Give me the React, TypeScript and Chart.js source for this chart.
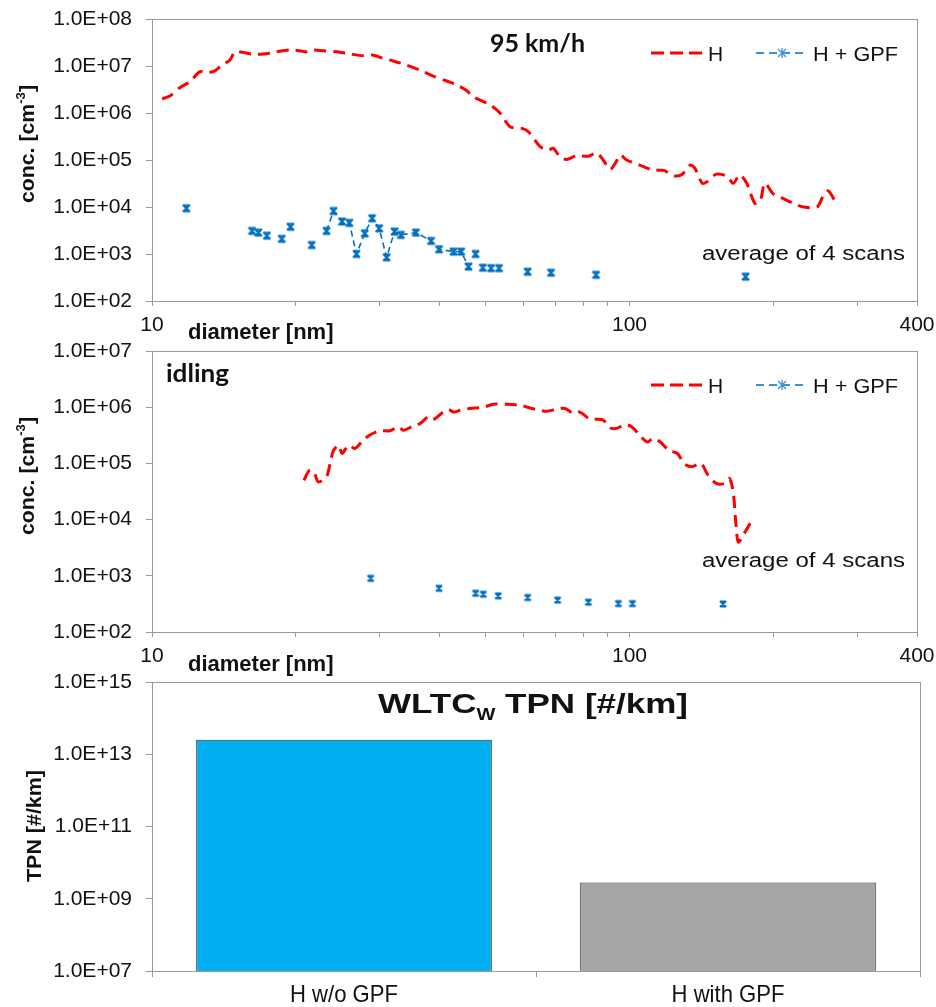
import React, { useEffect, useRef } from "react";
import { Chart, registerables } from "chart.js";

Chart.register(...registerables);

const SANS = '"Liberation Sans", Arial, Helvetica, sans-serif';
const HEAD = 'Lato, "Open Sans", sans-serif';
const AXIS_GREY = "#9a9a9a";
const TEXT = "#111111";
const RED = "#ff0000";
const BLUE = "#0070c0";
const BLUE_LIGHT = "#3a93dc";

// ---- 95 km/h: H without filter ----
const diam95H = [
  10.5, 10.9, 11.45, 12.0, 12.6, 13.0, 13.55, 14.0, 14.56, 14.93, 15.5, 16.3, 17.1, 18.2, 19.5,
  20.4, 21.1, 21.8, 22.9, 24.4, 26.0, 27.7, 29.1, 30.2, 32.0, 34.1, 36.4, 38.8, 41.4, 43.5,
  45.6, 47.1, 51.1, 53.6, 56.2, 59.5, 61.4, 65.0, 67.6, 69.3, 71.5, 73.8, 77.4, 82.0, 85.3,
  88.1, 91.0, 93.3, 95.6, 98.6, 105, 112, 118, 124, 129, 134, 137, 142, 145, 152, 160, 165,
  170, 176, 183, 188, 192, 200, 210, 220, 231, 247, 255, 261, 272,
];
const conc95H = [
  2.0e6, 2.3e6, 3.5e6, 4.6e6, 7.6e6, 7.2e6, 7.9e6, 1.05e7, 1.34e7, 2.0e7, 1.95e7, 1.78e7, 1.8e7, 2.0e7, 2.2e7,
  2.1e7, 2.0e7, 2.2e7, 2.1e7, 2.0e7, 1.8e7, 1.66e7, 1.7e7, 1.5e7, 1.28e7, 1.05e7, 8.2e6, 6.1e6, 4.8e6, 3.95e6,
  3.0e6, 2.2e6, 1.48e6, 9.9e5, 5.1e5, 4.7e5, 4.0e5, 1.92e5, 1.63e5, 1.77e5, 1.17e5, 1.03e5, 1.23e5, 1.2e5, 1.42e5,
  1.0e5, 6.3e4, 8.4e4, 1.28e5, 1.0e5, 7.8e4, 6.1e4, 6.0e4, 4.6e4, 5.0e4, 7.8e4, 6.7e4, 3.2e4, 3.4e4, 5.0e4, 4.5e4, 3.2e4,
  4.8e4, 3.2e4, 1.2e4, 1.4e4, 3.2e4, 1.9e4, 1.5e4, 1.2e4, 1.0e4, 1.0e4, 1.8e4, 2.2e4, 1.1e4,
];

// ---- 95 km/h: H + GPF (average of 4 scans) ----
const diam95Gpf = [
  11.8, 16.2, 16.7, 17.4, 18.7, 19.5, 21.6, 23.2, 24.0, 25.0, 25.9, 26.8, 27.9, 28.9, 29.9, 31.0,
  32.2, 33.2, 35.7, 38.4, 39.9, 42.8, 44.4, 46.0, 47.6, 49.3, 51.3, 53.3, 61.2, 68.5, 85.1, 175,
];
const conc95Gpf = [
  9.4e3, 3.1e3, 2.85e3, 2.45e3, 2.1e3, 3.8e3, 1.55e3, 3.1e3, 8.2e3, 4.9e3, 4.6e3, 1.0e3, 2.75e3, 5.75e3, 3.5e3, 8.5e2,
  3.0e3, 2.55e3, 2.85e3, 1.9e3, 1.26e3, 1.12e3, 1.12e3, 5.4e2, 1.0e3, 5.1e2, 5.0e2, 5.0e2, 4.2e2, 4.0e2, 3.6e2, 3.3e2,
];
// continuous run of the GPF series that is joined by a line
const gpf95RunFrom = 7;
const gpf95RunTo = 23;

// ---- idling: H without filter ----
const diamIdleH = [
  20.8, 21.4, 21.9, 22.3, 23.2, 23.6, 24.0, 24.6, 25.0, 25.8, 26.6, 27.7, 28.6, 30.0, 31.5, 32.8,
  33.6, 35.2, 36.4, 37.9, 38.8, 40.7, 41.8, 42.8, 44.2, 46.3, 49.4, 51.9, 55.3, 59.0, 61.9, 65.0,
  67.1, 70.4, 73.3, 76.3, 78.7, 82.6, 85.3, 88.1, 91.0, 94.0, 97.8, 101, 105, 109, 112, 116, 121,
  126, 130, 135, 141, 146, 152, 158, 162, 165, 167, 169, 173, 179,
];
const concIdleH = [
  5.0e4, 7.6e4, 6.6e4, 4.7e4, 5.8e4, 1.0e5, 1.7e5, 2.1e5, 1.5e5, 2.1e5, 1.84e5, 2.6e5, 3.2e5, 3.8e5, 3.8e5, 4.5e5,
  3.9e5, 4.6e5, 5.1e5, 6.7e5, 6.0e5, 8.2e5, 9.1e5, 8.2e5, 8.8e5, 9.5e5, 1.0e6, 1.13e6, 1.13e6, 1.08e6, 9.7e5, 8.8e5,
  8.5e5, 9.2e5, 9.5e5, 7.7e5, 8.2e5, 6.1e5, 6.1e5, 5.9e5, 4.3e5, 4.2e5, 4.9e5, 4.5e5, 3.2e5, 2.4e5, 2.8e5, 2.4e5, 1.7e5,
  1.5e5, 1.0e5, 8.7e4, 1.0e5, 6.2e4, 4.4e4, 4.4e4, 5.4e4, 2.9e4, 8.6e3, 4.0e3, 5.3e3, 8.6e3,
];

// ---- idling: H + GPF (average of 4 scans) ----
const diamIdleGpf = [28.7, 39.9, 47.6, 49.4, 53.1, 61.2, 70.7, 82.0, 94.8, 101.4, 157];
const concIdleGpf = [9.0e2, 6.0e2, 4.9e2, 4.7e2, 4.4e2, 4.1e2, 3.7e2, 3.4e2, 3.2e2, 3.2e2, 3.15e2];

// ---- WLTC_W total particle number ----
const tpnCategories = ["H w/o GPF", "H with GPF"];
const tpnValues = [2.5e13, 2.8e9];

// ---- axis ticks ----
const diamTicks = [10, 20, 30, 40, 50, 60, 70, 80, 90, 100, 200, 300, 400];
const diamTickLabels = [10, 100, 400];
const conc95Ticks = [1e2, 1e3, 1e4, 1e5, 1e6, 1e7, 1e8];
const concIdleTicks = [1e2, 1e3, 1e4, 1e5, 1e6, 1e7];
const tpnTicks = [1e7, 1e9, 1e11, 1e13, 1e15];

const sci = (v: number) => {
  const e = Math.round(Math.log10(v));
  const m = v / Math.pow(10, e);
  return `${m.toFixed(1)}E${e < 0 ? "-" : "+"}${String(Math.abs(e)).padStart(2, "0")}`;
};

type Run = { text: string; font: string; dy?: number };
type RunOpts = { width?: number; sx?: number; align?: "left" | "center"; rotate?: boolean; color?: string };

// draws a row of text runs on one baseline, optionally stretched and rotated
function drawRuns(ctx: CanvasRenderingContext2D, runs: Run[], x: number, y: number, o: RunOpts = {}) {
  ctx.save();
  ctx.fillStyle = o.color ?? TEXT;
  ctx.textBaseline = "alphabetic";
  ctx.textAlign = "left";
  const widths = runs.map((r) => {
    ctx.font = r.font;
    return ctx.measureText(r.text).width;
  });
  const natural = widths.reduce((a, b) => a + b, 0);
  const sx = o.width ? o.width / natural : o.sx ?? 1;
  ctx.translate(x, y);
  if (o.rotate) ctx.rotate(-Math.PI / 2);
  ctx.scale(sx, 1);
  let cx = o.align === "center" ? -natural / 2 : 0;
  runs.forEach((r, i) => {
    ctx.font = r.font;
    ctx.fillText(r.text, cx, r.dy ?? 0);
    cx += widths[i];
  });
  ctx.restore();
}

function hourglassMarker(color: string, size: number) {
  const c = document.createElement("canvas");
  c.width = size + 4;
  c.height = size + 4;
  const g = c.getContext("2d")!;
  g.strokeStyle = color;
  g.lineWidth = 2.2;
  const a = 2;
  const b = size + 2;
  g.beginPath();
  g.moveTo(a, a);
  g.lineTo(b, b);
  g.moveTo(b, a);
  g.lineTo(a, b);
  g.moveTo(a, a + 0.5);
  g.lineTo(b, a + 0.5);
  g.moveTo(a, b - 0.5);
  g.lineTo(b, b - 0.5);
  g.stroke();
  return c;
}

function drawLegend(ctx: CanvasRenderingContext2D, y: number) {
  ctx.save();
  ctx.strokeStyle = RED;
  ctx.lineWidth = 3;
  ctx.setLineDash([13, 6]);
  ctx.beginPath();
  ctx.moveTo(651, y);
  ctx.lineTo(704, y);
  ctx.stroke();
  ctx.strokeStyle = BLUE_LIGHT;
  ctx.lineWidth = 2;
  ctx.setLineDash([8, 5]);
  ctx.beginPath();
  ctx.moveTo(756, y);
  ctx.lineTo(806, y);
  ctx.stroke();
  ctx.setLineDash([]);
  ctx.lineWidth = 1.3;
  ctx.beginPath();
  ctx.moveTo(778, y - 4);
  ctx.lineTo(786, y + 4);
  ctx.moveTo(786, y - 4);
  ctx.lineTo(778, y + 4);
  ctx.moveTo(782, y - 5);
  ctx.lineTo(782, y + 5);
  ctx.stroke();
  ctx.restore();
  drawRuns(ctx, [{ text: "H", font: `21px ${SANS}` }], 708, y + 7.5);
  drawRuns(ctx, [{ text: "H + GPF", font: `21px ${SANS}` }], 813, y + 7.5, { width: 85 });
}

function drawConcTitle(ctx: CanvasRenderingContext2D, baselineX: number, startY: number) {
  drawRuns(
    ctx,
    [
      { text: "conc. [cm", font: `bold 21px ${SANS}` },
      { text: "-3", font: `bold 13px ${SANS}`, dy: -9 },
      { text: "]", font: `bold 21px ${SANS}` },
    ],
    baselineX,
    startY,
    { rotate: true, width: 118 }
  );
}

const framePlugin = {
  id: "frame",
  beforeDatasetsDraw(chart: any) {
    const { ctx, chartArea: a } = chart;
    ctx.save();
    ctx.strokeStyle = AXIS_GREY;
    ctx.lineWidth = 1;
    ctx.strokeRect(Math.round(a.left) + 0.5, Math.round(a.top) + 0.5, Math.round(a.right - a.left), Math.round(a.bottom - a.top));
    ctx.restore();
  },
};

// page-space decoration layer for one canvas placed at `top`
const decorPlugin = (top: number, draw: (ctx: CanvasRenderingContext2D, chart: any) => void) => ({
  id: "decor",
  afterDraw(chart: any) {
    const ctx = chart.ctx as CanvasRenderingContext2D;
    ctx.save();
    ctx.translate(0, -top);
    draw(ctx, chart);
    ctx.restore();
  },
});

// fixed axis box sizes; label overhang is not allowed to shrink the plot area
const fixHeight = (h: number) => (sc: any) => {
  sc.height = h;
  sc.paddingLeft = 0;
  sc.paddingRight = 0;
  sc.paddingTop = 0;
  sc.paddingBottom = 0;
};
const fixWidth = (w: number) => (sc: any) => {
  sc.width = w;
  sc.paddingLeft = 0;
  sc.paddingRight = 0;
  sc.paddingTop = 0;
  sc.paddingBottom = 0;
};

const tickFont = { family: SANS, size: 21 };

interface SizeSpec {
  top: number;
  height: number;
  areaTop: number;
  areaBottom: number;
  yMin: number;
  yMax: number;
  yTicks: number[];
  hDiam: number[];
  hConc: number[];
  gDiam: number[];
  gConc: number[];
  run?: [number, number];
  markerSize: number;
  decorate: (ctx: CanvasRenderingContext2D) => void;
}

function makeSizeChart(canvas: HTMLCanvasElement, s: SizeSpec) {
  const pts = (d: number[], c: number[]) => d.map((x, i) => ({ x, y: c[i] }));
  const gpfPts = pts(s.gDiam, s.gConc);
  const datasets: any[] = [
    {
      data: pts(s.hDiam, s.hConc),
      showLine: true,
      borderColor: RED,
      borderWidth: 3,
      borderDash: [12, 7],
      pointRadius: 0,
      tension: 0.3,
      fill: false,
    },
  ];
  if (s.run) {
    datasets.push({
      data: gpfPts.slice(s.run[0], s.run[1] + 1),
      showLine: true,
      borderColor: BLUE,
      borderWidth: 1.6,
      borderDash: [6, 4],
      pointRadius: 0,
      tension: 0,
      fill: false,
    });
  }
  datasets.push({
    data: gpfPts,
    showLine: false,
    pointStyle: hourglassMarker(BLUE, s.markerSize),
    pointRadius: 4,
  });
  const xAxisHeight = s.height - (s.areaBottom - s.top);
  return new Chart(canvas, {
    type: "scatter",
    data: { datasets },
    options: {
      responsive: false,
      animation: false,
      devicePixelRatio: 1,
      layout: { padding: { top: s.areaTop - s.top, right: 19, left: 0, bottom: 0 } },
      plugins: { legend: { display: false }, tooltip: { enabled: false } },
      scales: {
        x: {
          type: "logarithmic",
          min: 10,
          max: 400,
          afterBuildTicks: (sc: any) => {
            sc.ticks = diamTicks.map((value) => ({ value }));
          },
          afterFit: fixHeight(xAxisHeight),
          ticks: {
            autoSkip: false,
            maxRotation: 0,
            padding: 7,
            color: TEXT,
            font: tickFont,
            callback: (v: any) => (diamTickLabels.includes(Number(v)) ? String(v) : ""),
          },
          grid: { drawOnChartArea: false, drawTicks: true, tickLength: 5, color: AXIS_GREY },
          border: { color: AXIS_GREY, width: 1 },
        },
        y: {
          type: "logarithmic",
          min: s.yMin,
          max: s.yMax,
          afterBuildTicks: (sc: any) => {
            sc.ticks = s.yTicks.map((value) => ({ value }));
          },
          afterFit: fixWidth(152),
          ticks: { padding: 14, color: TEXT, font: tickFont, callback: (v: any) => sci(Number(v)) },
          grid: { drawOnChartArea: false, drawTicks: true, tickLength: 6, color: AXIS_GREY },
          border: { color: AXIS_GREY, width: 1 },
        },
      },
    } as any,
    plugins: [framePlugin, decorPlugin(s.top, (ctx) => s.decorate(ctx))],
  });
}

const TOP_A = 0;
const H_A = 346;
const TOP_B = 338;
const H_B = 340;
const TOP_C = 672;
const H_C = 335;

export default function App() {
  const refA = useRef<HTMLCanvasElement>(null);
  const refB = useRef<HTMLCanvasElement>(null);
  const refC = useRef<HTMLCanvasElement>(null);

  useEffect(() => {
    const charts: Chart[] = [];

    charts.push(
      makeSizeChart(refA.current!, {
        top: TOP_A,
        height: H_A,
        areaTop: 19,
        areaBottom: 301,
        yMin: 1e2,
        yMax: 1e8,
        yTicks: conc95Ticks,
        hDiam: diam95H,
        hConc: conc95H,
        gDiam: diam95Gpf,
        gConc: conc95Gpf,
        run: [gpf95RunFrom, gpf95RunTo],
        markerSize: 7,
        decorate: (ctx) => {
          drawRuns(ctx, [{ text: "95 km/h", font: `bold 24px ${HEAD}` }], 490, 52, { width: 95 });
          drawLegend(ctx, 53);
          drawRuns(ctx, [{ text: "average of 4 scans", font: `20px ${SANS}` }], 702, 260, { width: 203 });
          drawRuns(ctx, [{ text: "diameter [nm]", font: `bold 22px ${SANS}` }], 188, 339);
          drawConcTitle(ctx, 34, 203);
        },
      })
    );

    charts.push(
      makeSizeChart(refB.current!, {
        top: TOP_B,
        height: H_B,
        areaTop: 351,
        areaBottom: 632,
        yMin: 1e2,
        yMax: 1e7,
        yTicks: concIdleTicks,
        hDiam: diamIdleH,
        hConc: concIdleH,
        gDiam: diamIdleGpf,
        gConc: concIdleGpf,
        markerSize: 6,
        decorate: (ctx) => {
          drawRuns(ctx, [{ text: "idling", font: `bold 24px ${HEAD}` }], 166, 382, { width: 63 });
          drawLegend(ctx, 385);
          drawRuns(ctx, [{ text: "average of 4 scans", font: `20px ${SANS}` }], 702, 567, { width: 203 });
          drawRuns(ctx, [{ text: "diameter [nm]", font: `bold 22px ${SANS}` }], 188, 671);
          drawConcTitle(ctx, 34, 535);
        },
      })
    );

    const areaTopC = 682;
    const areaBottomC = 971;
    charts.push(
      new Chart(refC.current!, {
        type: "bar",
        data: {
          labels: tpnCategories,
          datasets: [
            {
              data: tpnValues,
              backgroundColor: ["#00b0f0", "#a6a6a6"],
              borderColor: "#333333",
              borderWidth: 1,
              barPercentage: 0.77,
              categoryPercentage: 1,
            },
          ],
        },
        options: {
          responsive: false,
          animation: false,
          devicePixelRatio: 1,
          layout: { padding: { top: areaTopC - TOP_C, right: 16, left: 0, bottom: 0 } },
          plugins: { legend: { display: false }, tooltip: { enabled: false } },
          scales: {
            x: {
              type: "category",
              afterFit: fixHeight(TOP_C + H_C - areaBottomC),
              ticks: { display: false },
              grid: { offset: true, drawOnChartArea: false, drawTicks: true, tickLength: 6, color: AXIS_GREY },
              border: { color: AXIS_GREY, width: 1 },
            },
            y: {
              type: "logarithmic",
              min: 1e7,
              max: 1e15,
              afterBuildTicks: (sc: any) => {
                sc.ticks = tpnTicks.map((value) => ({ value }));
              },
              afterFit: fixWidth(152),
              ticks: { padding: 14, color: TEXT, font: tickFont, callback: (v: any) => sci(Number(v)) },
              grid: { drawOnChartArea: false, drawTicks: true, tickLength: 6, color: AXIS_GREY },
              border: { color: AXIS_GREY, width: 1 },
            },
          },
        } as any,
        plugins: [
          framePlugin,
          decorPlugin(TOP_C, (ctx, chart) => {
            drawRuns(
              ctx,
              [
                { text: "WLTC", font: `bold 28px ${SANS}` },
                { text: "W", font: `bold 16px ${SANS}`, dy: 7 },
                { text: " TPN [#/km]", font: `bold 28px ${SANS}` },
              ],
              378,
              713,
              { width: 310 }
            );
            drawRuns(ctx, [{ text: "TPN [#/km]", font: `bold 21px ${SANS}` }], 41, 882, { rotate: true, width: 112 });
            const xs = chart.scales.x;
            tpnCategories.forEach((label, i) => {
              drawRuns(ctx, [{ text: label, font: `24px ${SANS}` }], xs.getPixelForValue(i), 1002, {
                align: "center",
                sx: 0.92,
              });
            });
          }),
        ],
      })
    );

    return () => charts.forEach((c) => c.destroy());
  }, []);

  const canvasStyle = (top: number, height: number): React.CSSProperties => ({
    position: "absolute",
    left: 0,
    top,
    width: 936,
    height,
    display: "block",
  });

  return (
    <div style={{ position: "absolute", left: 0, top: 0, width: 936, height: 1007, background: "#ffffff" }}>
      <canvas ref={refA} width={936} height={H_A} style={canvasStyle(TOP_A, H_A)} />
      <canvas ref={refB} width={936} height={H_B} style={canvasStyle(TOP_B, H_B)} />
      <canvas ref={refC} width={936} height={H_C} style={canvasStyle(TOP_C, H_C)} />
    </div>
  );
}
